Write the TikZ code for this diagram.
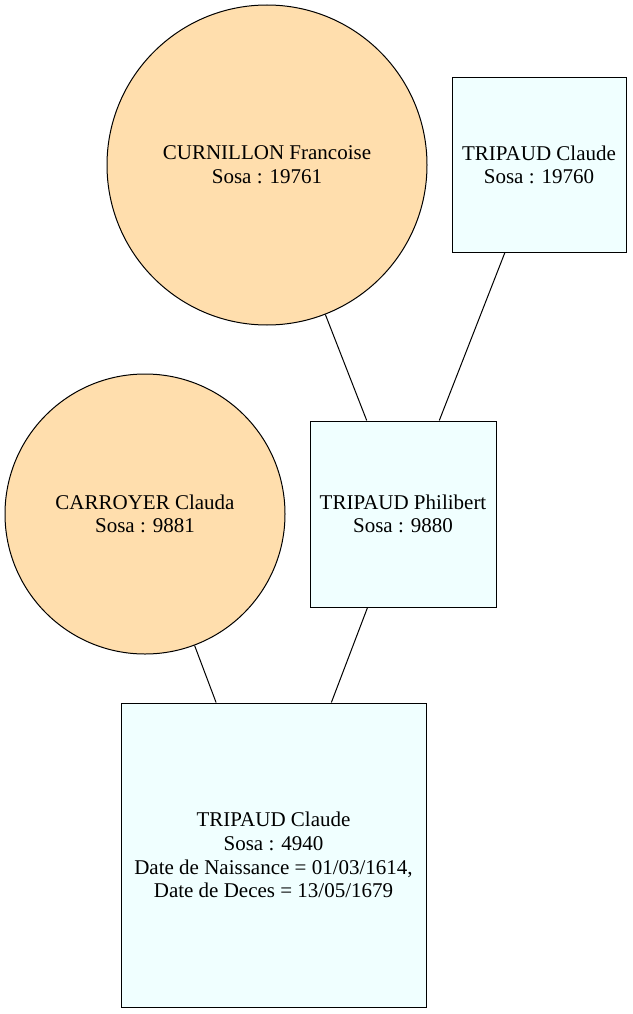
\documentclass[tikz,border=0pt]{standalone}
\usepackage{fontspec}
\setmainfont{Liberation Serif}
\usepackage{tikz}
\usetikzlibrary{shapes,arrows,calc}

\begin{document}
\begin{tikzpicture}[x=1pt,y=-1pt,line width=1pt]
\tikzset{person/.style={draw, align=center, inner sep=0pt},
  femme/.style={person, circle, fill={rgb,255:red,255;green,222;blue,173}},
  homme/.style={person, rectangle, fill={rgb,255:red,240;green,255;blue,255}}}
\tikzstyle{every node}=[font=\fontsize{21}{23.7}\selectfont]
\useasboundingbox (0,0) rectangle (632,1014);
% ancetres
\node[femme, minimum size=320pt] (curnillon) at (267,165) {CURNILLON Francoise\\Sosa : 19761};
\node[homme, minimum width=174pt, minimum height=174pt] (claudeA) at (539,165) {TRIPAUD Claude\\Sosa : 19760};
\node[femme, minimum size=280pt] (carroyer) at (145,514) {CARROYER Clauda\\Sosa : 9881};
\node[homme, minimum width=186pt, minimum height=186pt] (philibert) at (403,514) {TRIPAUD Philibert\\Sosa : 9880};
\node[homme, minimum width=305pt, minimum height=304pt] (claudeB) at (273.5,855) {TRIPAUD Claude\\Sosa : 4940\\Date de Naissance = 01/03/1614,\\Date de Deces = 13/05/1679};
% liens
\draw (curnillon) -- (philibert);
\draw (claudeA) -- (philibert);
\draw (carroyer) -- (claudeB);
\draw (philibert) -- (claudeB);
\end{tikzpicture}
\end{document}
